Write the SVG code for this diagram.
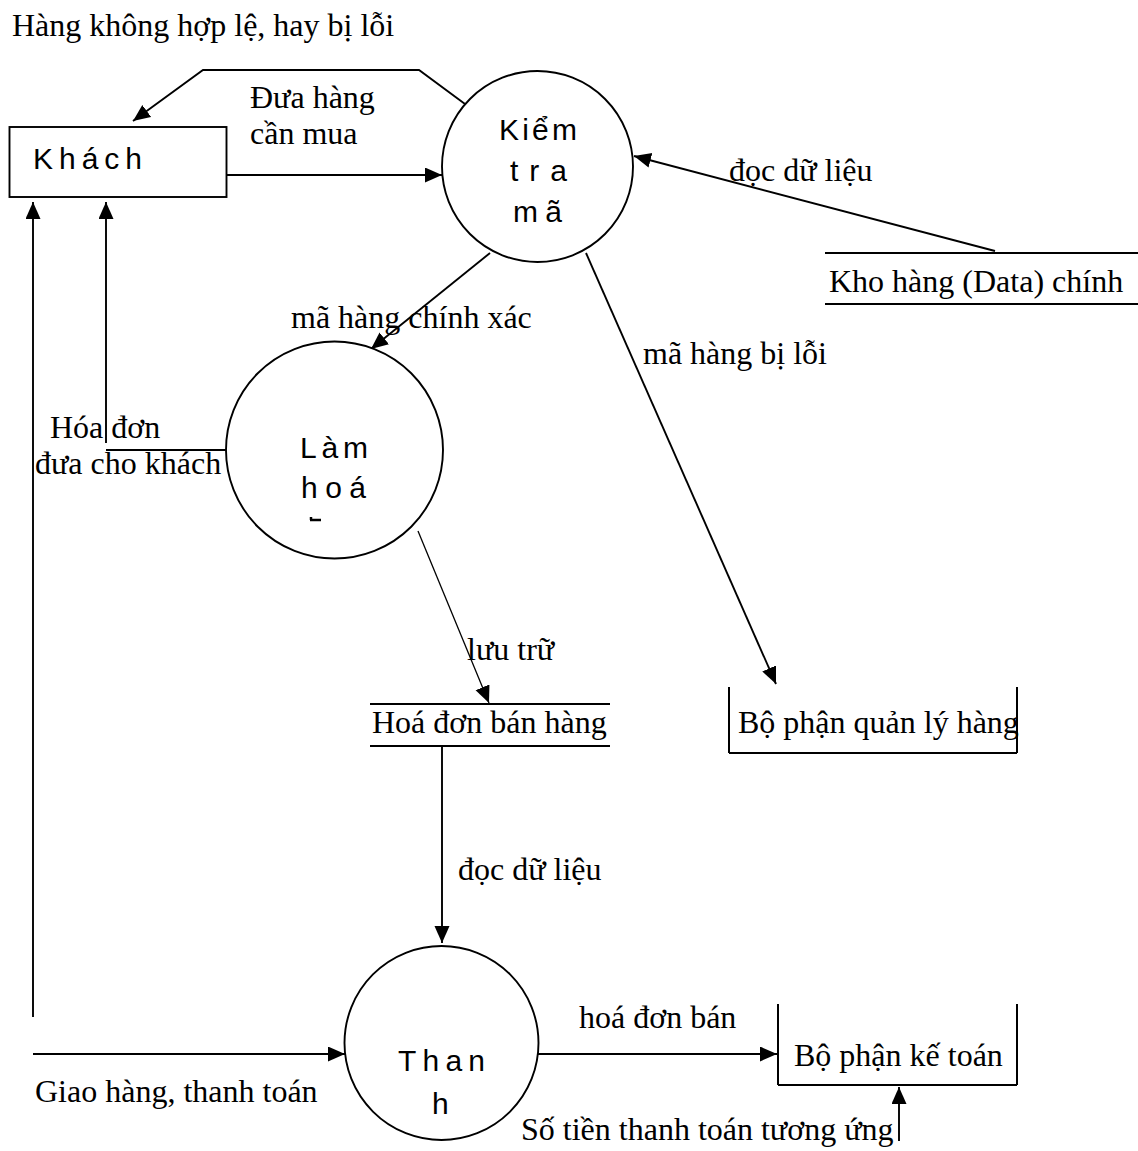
<svg xmlns="http://www.w3.org/2000/svg" width="1138" height="1151" viewBox="0 0 1138 1151">
  <style>
    .lbl { font-family: "Liberation Serif", "Times New Roman", serif; font-size: 32px; fill: #000; }
    .nd { font-family: "Liberation Sans", Arial, sans-serif; font-size: 30px; fill: #000; }
    .shape { fill: #fff; stroke: #000; stroke-width: 1.9; }
    .ln { fill: none; stroke: #000; stroke-width: 1.9; }
    .thin { fill: none; stroke: #000; stroke-width: 1.3; }
    .store { fill: none; stroke: #000; stroke-width: 2; }
  </style>
  <defs>
    <marker id="arrow" markerUnits="userSpaceOnUse" markerWidth="20" markerHeight="18" refX="17" refY="7.5" orient="auto">
      <path d="M0,0 L17,7.5 L0,15 z" fill="#000"/>
    </marker>
  </defs>

  <rect width="1138" height="1151" fill="#fff"/>

  <!-- connectors -->
  <g id="connectors">
    <!-- rejected goods back to the customer -->
    <polyline class="ln" points="465,104 419,70 203,70 133,121" marker-end="url(#arrow)"/>
    <!-- customer hands over goods -->
    <line class="ln" x1="227" y1="175" x2="442" y2="175" marker-end="url(#arrow)"/>
    <!-- read from main stock store -->
    <line class="ln" x1="995" y1="251" x2="634" y2="156" marker-end="url(#arrow)"/>
    <!-- valid code -->
    <line class="ln" x1="490" y1="253" x2="371" y2="349" marker-end="url(#arrow)"/>
    <!-- faulty code -->
    <line class="ln" x1="586" y1="253" x2="776" y2="684" marker-end="url(#arrow)"/>
    <!-- invoice to the customer -->
    <polyline class="ln" points="226,450 106,450"/>
    <line class="ln" x1="106" y1="443" x2="106" y2="202" marker-end="url(#arrow)"/>
    <!-- store invoice -->
    <line class="thin" x1="418" y1="531" x2="489" y2="703" marker-end="url(#arrow)"/>
    <!-- read invoice data -->
    <line class="ln" x1="442" y1="746" x2="442" y2="943" marker-end="url(#arrow)"/>
    <!-- delivery / payment -->
    <line class="ln" x1="33" y1="1017" x2="33" y2="202" marker-end="url(#arrow)"/>
    <line class="ln" x1="33" y1="1054" x2="345" y2="1054" marker-end="url(#arrow)"/>
    <!-- sales invoice to accounting -->
    <line class="ln" x1="538" y1="1054" x2="777" y2="1054" marker-end="url(#arrow)"/>
    <!-- payment amount -->
    <line class="ln" x1="899" y1="1141" x2="899" y2="1087" marker-end="url(#arrow)"/>
  </g>

  <!-- flow labels -->
  <g id="labels">
    <text class="lbl" x="12" y="36">Hàng không hợp lệ, hay bị lỗi</text>
    <text class="lbl" x="250" y="108">Đưa hàng</text>
    <text class="lbl" x="250" y="144">cần mua</text>
    <text class="lbl" x="729" y="181">đọc dữ liệu</text>
    <text class="lbl" x="291" y="328">mã hàng chính xác</text>
    <text class="lbl" x="643" y="364">mã hàng bị lỗi</text>
    <text class="lbl" x="50" y="438">Hóa đơn</text>
    <text class="lbl" x="35" y="474">đưa cho khách</text>
    <text class="lbl" x="467" y="660">lưu trữ</text>
    <text class="lbl" x="458" y="880">đọc dữ liệu</text>
    <text class="lbl" x="579" y="1028">hoá đơn bán</text>
    <text class="lbl" x="35" y="1102">Giao hàng, thanh toán</text>
    <text class="lbl" x="521" y="1140">Số tiền thanh toán tương ứng</text>
  </g>

  <!-- external entity -->
  <g id="khach">
    <rect class="shape" x="9.5" y="127" width="217" height="70"/>
    <text class="nd" x="33" y="169" textLength="109">Khách</text>
  </g>

  <!-- process: check code -->
  <g id="kiem-tra-ma">
    <circle class="shape" cx="537.5" cy="166.5" r="95.5"/>
    <text class="nd" x="499" y="140" textLength="78">Kiểm</text>
    <text class="nd" x="510" y="181" textLength="57">tra</text>
    <text class="nd" x="513" y="222" textLength="49">mã</text>
  </g>

  <!-- process: make invoice -->
  <g id="lam-hoa-don">
    <circle class="shape" cx="334.5" cy="450" r="108.5"/>
    <text class="nd" x="300" y="458" textLength="68">Làm</text>
    <text class="nd" x="301" y="498" textLength="65">hoá</text>
    <path d="M310,520 L321,520 M311,517 L311,520" fill="none" stroke="#000" stroke-width="2.5"/>
  </g>

  <!-- process: payment -->
  <g id="thanh-toan">
    <circle class="shape" cx="441.5" cy="1043" r="97"/>
    <text class="nd" x="398" y="1071" textLength="87">Than</text>
    <text class="nd" x="432" y="1114">h</text>
  </g>

  <!-- data store: main stock -->
  <g id="kho-hang">
    <line class="store" x1="825" y1="253" x2="1138" y2="253"/>
    <line class="store" x1="825" y1="304" x2="1138" y2="304"/>
    <text class="lbl" x="829" y="292">Kho hàng (Data) chính</text>
  </g>

  <!-- data store: sales invoices -->
  <g id="hoa-don-ban-hang">
    <line class="store" x1="370" y1="704" x2="610" y2="704"/>
    <line class="store" x1="370" y1="746" x2="610" y2="746"/>
    <text class="lbl" x="372" y="733">Hoá đơn bán hàng</text>
  </g>

  <!-- external: goods management department -->
  <g id="bo-phan-quan-ly-hang">
    <line class="store" x1="729" y1="687" x2="729" y2="753"/>
    <line class="store" x1="1017" y1="687" x2="1017" y2="753"/>
    <line class="store" x1="729" y1="753" x2="1017" y2="753"/>
    <text class="lbl" x="738" y="733">Bộ phận quản lý hàng</text>
  </g>

  <!-- external: accounting department -->
  <g id="bo-phan-ke-toan">
    <line class="store" x1="778" y1="1004" x2="778" y2="1085"/>
    <line class="store" x1="1017" y1="1004" x2="1017" y2="1085"/>
    <line class="store" x1="778" y1="1085" x2="1017" y2="1085"/>
    <text class="lbl" x="794" y="1066">Bộ phận kế toán</text>
  </g>
</svg>
